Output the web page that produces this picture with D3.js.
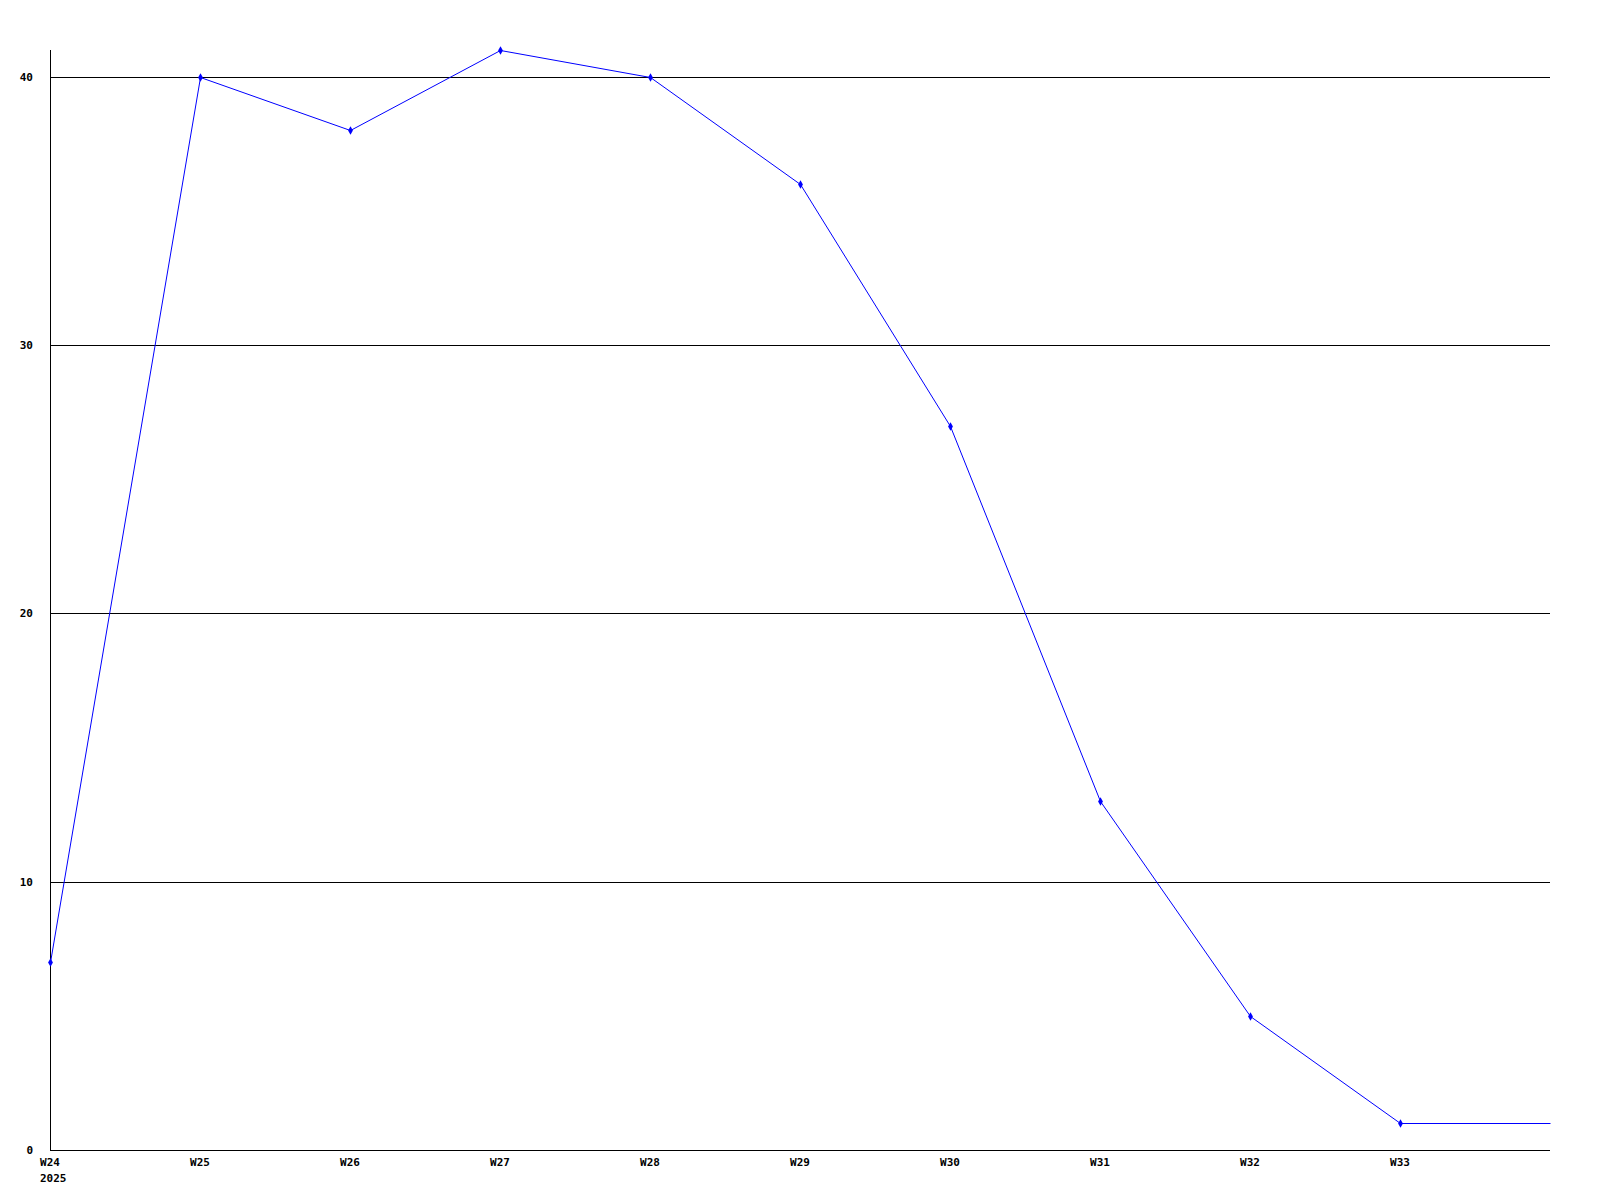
<!DOCTYPE html>
<html>
<head>
<meta charset="utf-8">
<script src="https://cdn.jsdelivr.net/npm/d3@7"></script>
<style>
  html, body { margin: 0; padding: 0; background: #fff; }
  svg text { font-family: "DejaVu Sans Mono", monospace; font-size: 11px; font-weight: bold; fill: #000; }
</style>
</head>
<body>
<svg id="chart" width="1600" height="1200"></svg>
<script>
(function() {
  // weeks on the x axis (W34 is only the line's end, no label)
  const weeks = ["W24", "W25", "W26", "W27", "W28", "W29", "W30", "W31", "W32", "W33", "W34"];
  const weekLabels = ["W24", "W25", "W26", "W27", "W28", "W29", "W30", "W31", "W32", "W33"];
  const values = [7, 40, 38, 41, 40, 36, 27, 13, 5, 1, 1];
  const yTicks = [0, 10, 20, 30, 40];
  const yearLabel = "2025";

  const svg = d3.select("#chart");
  const left = 50, right = 1550, top = 50, bottom = 1150;

  const x = d3.scalePoint().domain(weeks).range([left, right]);
  const y = d3.scaleLinear().domain([0, d3.max(values)]).range([bottom, top]);

  // horizontal grid lines
  svg.append("g")
    .selectAll("line")
    .data(yTicks.filter(d => d > 0))
    .enter()
    .append("line")
    .attr("x1", left).attr("x2", right)
    .attr("y1", d => Math.round(y(d)) + 0.5)
    .attr("y2", d => Math.round(y(d)) + 0.5)
    .attr("stroke", "#000")
    .attr("stroke-width", 1);

  // axes lines
  svg.append("line")
    .attr("x1", left + 0.5).attr("x2", left + 0.5)
    .attr("y1", top).attr("y2", bottom + 0.5)
    .attr("stroke", "#000");
  svg.append("line")
    .attr("x1", left).attr("x2", right)
    .attr("y1", bottom + 0.5).attr("y2", bottom + 0.5)
    .attr("stroke", "#000");

  // y labels
  svg.append("g")
    .selectAll("text")
    .data(yTicks)
    .enter()
    .append("text")
    .attr("x", 33)
    .attr("y", d => y(d))
    .attr("dy", "0.35em")
    .attr("text-anchor", "end")
    .text(d => d);

  // x labels
  svg.append("g")
    .selectAll("text")
    .data(weekLabels)
    .enter()
    .append("text")
    .attr("x", d => x(d))
    .attr("y", 1166)
    .attr("text-anchor", "middle")
    .text(d => d);

  svg.append("text")
    .attr("x", x("W24") - 10)
    .attr("y", 1182)
    .text(yearLabel);

  // data line
  const line = d3.line()
    .x((d, i) => x(weeks[i]) + 0.5)
    .y(d => Math.round(y(d)) + 0.5);

  svg.append("path")
    .datum(values)
    .attr("d", line)
    .attr("fill", "none")
    .attr("stroke", "#0000ff")
    .attr("stroke-width", 1);

  // point markers (not on the trailing end)
  svg.append("g")
    .selectAll("path")
    .data(values.slice(0, weekLabels.length))
    .enter()
    .append("path")
    .attr("transform", (d, i) => `translate(${x(weeks[i]) + 0.5},${Math.round(y(d)) + 0.5})`)
    .attr("d", d3.symbol().type(d3.symbolDiamond).size(20))
    .attr("fill", "#0000ff");
})();
</script>
</body>
</html>
